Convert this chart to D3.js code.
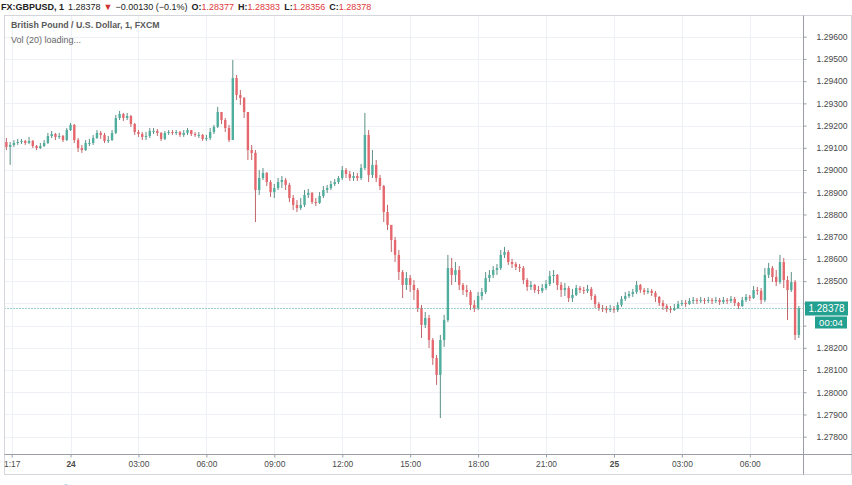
<!DOCTYPE html>
<html><head><meta charset="utf-8">
<script src="https://cdn.jsdelivr.net/npm/d3@7/dist/d3.min.js"></script>
<style>body{margin:0;background:#fff;overflow:hidden}svg{display:block}</style>
</head><body>
<svg id="c" width="852" height="485"></svg>
<script>
// ---- data (10-minute bars) ----
const startTime = "2019-10-23T21:10:00Z";
const barMinutes = 10;
const firstOpen = 1.29126;
const closes = [
1.29104,1.29113,1.29122,1.29126,1.29131,1.29122,1.29131,1.29108,1.29099,1.29108,
1.29122,1.29153,1.29162,1.29149,1.29153,1.29135,1.29180,1.29203,1.29135,1.29099,
1.29090,1.29122,1.29122,1.29144,1.29167,1.29158,1.29131,1.29135,1.29167,1.29234,
1.29252,1.29234,1.29243,1.29207,1.29171,1.29162,1.29149,1.29153,1.29176,1.29176,
1.29167,1.29140,1.29167,1.29171,1.29167,1.29171,1.29158,1.29167,1.29180,1.29162,
1.29158,1.29158,1.29140,1.29144,1.29171,1.29194,1.29261,1.29225,1.29189,1.29135,
1.29414,1.29338,1.29324,1.29261,1.29090,1.29077,1.28910,1.28964,1.28987,1.28946,
1.28901,1.28919,1.28946,1.28955,1.28933,1.28874,1.28843,1.28829,1.28843,1.28888,
1.28897,1.28856,1.28852,1.28883,1.28910,1.28919,1.28937,1.28946,1.28964,1.29000,
1.28982,1.28964,1.28973,1.28964,1.29009,1.29158,1.28978,1.29023,1.28964,1.28928,
1.28811,1.28753,1.28685,1.28618,1.28541,1.28483,1.28514,1.28483,1.28460,1.28379,
1.28303,1.28334,1.28235,1.28154,1.28078,1.28235,1.28325,1.28559,1.28528,1.28550,
1.28483,1.28460,1.28451,1.28393,1.28379,1.28433,1.28451,1.28514,1.28528,1.28550,
1.28559,1.28618,1.28631,1.28586,1.28577,1.28564,1.28559,1.28505,1.28474,1.28483,
1.28460,1.28456,1.28469,1.28487,1.28523,1.28528,1.28483,1.28460,1.28469,1.28424,
1.28438,1.28469,1.28460,1.28456,1.28465,1.28433,1.28397,1.28379,1.28375,1.28370,
1.28375,1.28370,1.28393,1.28420,1.28433,1.28442,1.28451,1.28483,1.28460,1.28451,
1.28456,1.28447,1.28429,1.28402,1.28388,1.28375,1.28370,1.28379,1.28397,1.28402,
1.28397,1.28411,1.28415,1.28411,1.28415,1.28411,1.28415,1.28411,1.28415,1.28406,
1.28415,1.28411,1.28420,1.28402,1.28388,1.28415,1.28429,1.28424,1.28460,1.28456,
1.28415,1.28528,1.28559,1.28519,1.28496,1.28586,1.28505,1.28460,1.28496,1.28258,1.28378];
const highs = [
1.29144,1.29126,1.29135,1.29140,1.29140,1.29135,1.29149,1.29135,1.29113,1.29122,
1.29135,1.29167,1.29176,1.29167,1.29167,1.29158,1.29189,1.29212,1.29207,1.29144,
1.29113,1.29135,1.29140,1.29158,1.29180,1.29176,1.29167,1.29153,1.29180,1.29248,
1.29266,1.29257,1.29257,1.29248,1.29212,1.29180,1.29171,1.29171,1.29189,1.29189,
1.29185,1.29171,1.29176,1.29180,1.29180,1.29180,1.29176,1.29180,1.29189,1.29180,
1.29171,1.29171,1.29162,1.29158,1.29189,1.29203,1.29284,1.29261,1.29234,1.29203,
1.29495,1.29428,1.29360,1.29329,1.29261,1.29113,1.29090,1.29000,1.29009,1.28991,
1.28955,1.28937,1.28964,1.28973,1.28964,1.28942,1.28888,1.28865,1.28874,1.28910,
1.28915,1.28901,1.28874,1.28901,1.28928,1.28933,1.28951,1.28960,1.28973,1.29018,
1.29009,1.28996,1.28991,1.28987,1.29027,1.29257,1.29180,1.29090,1.29045,1.28978,
1.28933,1.28843,1.28717,1.28699,1.28640,1.28550,1.28541,1.28528,1.28505,1.28469,
1.28393,1.28361,1.28348,1.28244,1.28168,1.28258,1.28348,1.28618,1.28604,1.28586,
1.28568,1.28492,1.28483,1.28460,1.28415,1.28451,1.28469,1.28541,1.28550,1.28568,
1.28577,1.28640,1.28654,1.28640,1.28600,1.28586,1.28577,1.28568,1.28514,1.28501,
1.28487,1.28478,1.28487,1.28505,1.28546,1.28550,1.28532,1.28496,1.28492,1.28478,
1.28465,1.28483,1.28478,1.28474,1.28483,1.28474,1.28442,1.28406,1.28393,1.28388,
1.28393,1.28388,1.28406,1.28433,1.28451,1.28456,1.28465,1.28501,1.28487,1.28469,
1.28469,1.28465,1.28456,1.28433,1.28415,1.28397,1.28388,1.28397,1.28411,1.28415,
1.28415,1.28424,1.28429,1.28424,1.28429,1.28424,1.28429,1.28424,1.28429,1.28424,
1.28429,1.28424,1.28433,1.28429,1.28406,1.28429,1.28442,1.28438,1.28478,1.28474,
1.28469,1.28559,1.28582,1.28568,1.28550,1.28618,1.28604,1.28523,1.28541,1.28505,1.28388];
const lows = [
1.29090,1.29023,1.29104,1.29113,1.29117,1.29113,1.29117,1.29099,1.29090,1.29095,
1.29104,1.29117,1.29144,1.29135,1.29140,1.29126,1.29131,1.29176,1.29122,1.29081,
1.29077,1.29086,1.29108,1.29113,1.29140,1.29140,1.29122,1.29122,1.29131,1.29162,
1.29225,1.29221,1.29225,1.29194,1.29158,1.29149,1.29135,1.29135,1.29144,1.29162,
1.29153,1.29131,1.29135,1.29158,1.29158,1.29158,1.29149,1.29149,1.29158,1.29153,
1.29149,1.29144,1.29131,1.29131,1.29135,1.29162,1.29189,1.29207,1.29171,1.29126,
1.29135,1.29315,1.29293,1.29234,1.29045,1.29045,1.28766,1.28888,1.28955,1.28928,
1.28879,1.28874,1.28910,1.28919,1.28910,1.28856,1.28820,1.28811,1.28820,1.28834,
1.28874,1.28847,1.28838,1.28847,1.28874,1.28897,1.28910,1.28928,1.28937,1.28955,
1.28964,1.28951,1.28951,1.28951,1.28955,1.29000,1.28946,1.28964,1.28946,1.28910,
1.28766,1.28730,1.28631,1.28586,1.28505,1.28424,1.28460,1.28451,1.28415,1.28361,
1.28244,1.28289,1.28199,1.28123,1.28033,1.27884,1.28204,1.28316,1.28483,1.28496,
1.28460,1.28438,1.28429,1.28370,1.28361,1.28370,1.28415,1.28442,1.28496,1.28514,
1.28528,1.28550,1.28604,1.28573,1.28559,1.28550,1.28541,1.28487,1.28456,1.28460,
1.28447,1.28442,1.28447,1.28460,1.28478,1.28492,1.28460,1.28429,1.28433,1.28406,
1.28406,1.28433,1.28447,1.28442,1.28447,1.28415,1.28379,1.28366,1.28361,1.28357,
1.28361,1.28357,1.28361,1.28384,1.28411,1.28424,1.28429,1.28442,1.28447,1.28438,
1.28442,1.28433,1.28406,1.28388,1.28370,1.28361,1.28357,1.28366,1.28375,1.28388,
1.28384,1.28393,1.28397,1.28397,1.28402,1.28397,1.28402,1.28397,1.28402,1.28393,
1.28397,1.28397,1.28402,1.28388,1.28375,1.28384,1.28406,1.28411,1.28420,1.28438,
1.28397,1.28406,1.28514,1.28496,1.28478,1.28487,1.28469,1.28325,1.28451,1.28235,1.28244];

const priceTicks = [1.278,1.279,1.280,1.281,1.282,1.283,1.284,1.285,1.286,1.287,1.288,1.289,1.290,1.291,1.292,1.293,1.294,1.295,1.296];
const timeTickDates = ["2019-10-23T21:24:00Z","2019-10-24T00:00:00Z","2019-10-24T03:00:00Z","2019-10-24T06:00:00Z","2019-10-24T09:00:00Z","2019-10-24T12:00:00Z","2019-10-24T15:00:00Z","2019-10-24T18:00:00Z","2019-10-24T21:00:00Z","2019-10-25T00:00:00Z","2019-10-25T03:00:00Z","2019-10-25T06:00:00Z"];
const timeTickLabels = ["1:17","24","03:00","06:00","09:00","12:00","15:00","18:00","21:00","25","03:00","06:00"];
const dayLabels = ["24","25"];

const symbolText = "FX:GBPUSD, 1";
const lastPrice = "1.28378";
const changeText = "\u22120.00130 (\u22120.1%)";
const ohlcLabels = ["O:","H:","L:","C:"];
const ohlcValues = ["1.28377","1.28383","1.28356","1.28378"];
const legendTitle = "British Pound / U.S. Dollar, 1, FXCM";
const legendVol = "Vol (20) loading...";
const countdown = "00:04";

// ---- build bars ----
const t0 = new Date(startTime).getTime();
const bars = closes.map((c,i)=>{
  const o = i===0 ? firstOpen : closes[i-1];
  return {t:new Date(t0 + i*barMinutes*60000), o, c,
          h:Math.max(highs[i],o,c), l:Math.min(lows[i],o,c)};
});

// ---- layout ----
const L=4.5, R=803.5, T=15.5, B=454.5, AB=474.5, W=852;
const svg = d3.select("#c");
const x = d3.scaleUtc()
  .domain([new Date("2019-10-23T21:05:00Z"), new Date("2019-10-25T08:21:00Z")])
  .range([L, R-0.5]);
const y = d3.scaleLinear().domain([1.278,1.296]).range([436.7,36.7]);

svg.append("rect").attr("width",852).attr("height",485).attr("fill","#fff");

svg.append("defs").append("clipPath").attr("id","plot")
  .append("rect").attr("x",L).attr("y",T).attr("width",R-L).attr("height",B-T);

// grid
const grid = svg.append("g");
grid.selectAll("line.h").data(priceTicks).join("line")
  .attr("x1",L).attr("x2",R).attr("y1",d=>Math.round(y(d))+0.5).attr("y2",d=>Math.round(y(d))+0.5)
  .attr("stroke","#edf1f6").attr("stroke-width",1);
grid.selectAll("line.v").data(timeTickDates).join("line")
  .attr("y1",T).attr("y2",B).attr("x1",d=>Math.round(x(new Date(d)))+0.5).attr("x2",d=>Math.round(x(new Date(d)))+0.5)
  .attr("stroke","#edf1f6").attr("stroke-width",1);

// candles
const upCol="#4fae9d", dnCol="#e4686d", upWick="#5c8f86", dnWick="#c0656a";
const cg = svg.append("g").attr("clip-path","url(#plot)");
const bw = 2.4;
cg.selectAll("line.wick").data(bars).join("line")
  .attr("x1",d=>x(d.t)).attr("x2",d=>x(d.t))
  .attr("y1",d=>y(d.h)).attr("y2",d=>y(d.l))
  .attr("stroke",d=>d.c>=d.o?upWick:dnWick).attr("stroke-width",1);
cg.selectAll("rect.body").data(bars).join("rect")
  .attr("x",d=>x(d.t)-bw/2).attr("width",bw)
  .attr("y",d=>Math.min(y(d.o),y(d.c)))
  .attr("height",d=>Math.max(1,Math.abs(y(d.o)-y(d.c))))
  .attr("fill",d=>d.c>=d.o?upCol:dnCol);

// last price dotted line
const lastY = Math.round(y(closes[closes.length-1]))+0.5;
svg.append("line").attr("x1",L).attr("x2",R).attr("y1",lastY).attr("y2",lastY)
  .attr("stroke","#3aa597").attr("stroke-width",1).attr("stroke-dasharray","1,2");

// frame
svg.append("rect").attr("x",L).attr("y",T).attr("width",W-0.5-L).attr("height",AB-T)
  .attr("fill","none").attr("stroke","#d4d6db");
svg.append("line").attr("x1",L).attr("x2",W).attr("y1",B).attr("y2",B).attr("stroke","#9a9da5");
svg.append("line").attr("x1",R).attr("x2",R).attr("y1",T).attr("y2",AB).attr("stroke","#9a9da5");

// right price axis (labels under the last-price boxes are hidden, as on the original)
const boxTop = lastY-7, boxBottom = lastY+20;
const ya = svg.append("g").attr("transform",`translate(${R},0)`)
  .call(d3.axisRight(y).tickValues(priceTicks).tickFormat(d3.format(".5f")).tickSize(3).tickPadding(10));
ya.select(".domain").remove();
ya.selectAll("line").attr("stroke","#9a9da5");
ya.selectAll("text").attr("font-family","Liberation Sans, Arial, sans-serif").attr("font-size","8.6px").attr("fill","#4a4a4a")
  .attr("display",d=>{const yy=y(d); return (yy>boxTop-4 && yy<boxBottom+4)?"none":null;});

// bottom time axis
const xa = svg.append("g").attr("transform",`translate(0,${B})`)
  .call(d3.axisBottom(x).tickValues(timeTickDates.map(d=>new Date(d)))
    .tickFormat((d,i)=>timeTickLabels[i]).tickSize(3).tickPadding(4));
xa.select(".domain").remove();
xa.selectAll("line").attr("stroke","#9a9da5");
xa.selectAll("text").attr("font-family","Liberation Sans, Arial, sans-serif").attr("font-size","8.4px").attr("fill","#4a4a4a")
  .attr("font-weight",(d,i)=>dayLabels.includes(timeTickLabels[i])?"bold":"normal");

// price label boxes
const boxCol = "#23a08f";
svg.append("rect").attr("x",805).attr("y",lastY-7).attr("width",43).attr("height",14).attr("fill",boxCol);
svg.append("text").attr("x",826.5).attr("y",lastY+3.5).attr("text-anchor","middle")
  .attr("font-family","Liberation Sans, Arial, sans-serif").attr("font-size","10px").attr("fill","#fff").text(lastPrice);
svg.append("rect").attr("x",815).attr("y",lastY+8).attr("width",32).attr("height",12).attr("fill",boxCol);
svg.append("text").attr("x",831).attr("y",lastY+17.5).attr("text-anchor","middle")
  .attr("font-family","Liberation Sans, Arial, sans-serif").attr("font-size","9.5px").attr("fill","#fff").text(countdown);

// header
const hdr = svg.append("text").attr("x",1).attr("y",9.5)
  .attr("font-family","Liberation Sans, Arial, sans-serif").attr("font-size","9px").attr("fill","#222");
hdr.append("tspan").attr("font-weight","bold").text(symbolText);
hdr.append("tspan").attr("dx",4).text(lastPrice);
hdr.append("tspan").attr("dx",3).attr("fill","#d0312d").text("\u25BC");
hdr.append("tspan").attr("dx",3).text(changeText);
ohlcLabels.forEach((lb,i)=>{
  hdr.append("tspan").attr("dx",4).attr("font-weight","bold").text(lb);
  hdr.append("tspan").attr("fill","#e0393b").text(ohlcValues[i]);
});

// legend
svg.append("text").attr("x",11).attr("y",28).attr("font-family","Liberation Sans, Arial, sans-serif")
  .attr("font-size","8.8px").attr("font-weight","bold").attr("fill","#5a5a5a").text(legendTitle);
svg.append("text").attr("x",11).attr("y",43).attr("font-family","Liberation Sans, Arial, sans-serif")
  .attr("font-size","9px").attr("fill","#666").text(legendVol);

// small icon cut at bottom edge
svg.append("circle").attr("cx",66).attr("cy",489).attr("r",4.5).attr("fill","#3aa0f0");
</script>
</body></html>
